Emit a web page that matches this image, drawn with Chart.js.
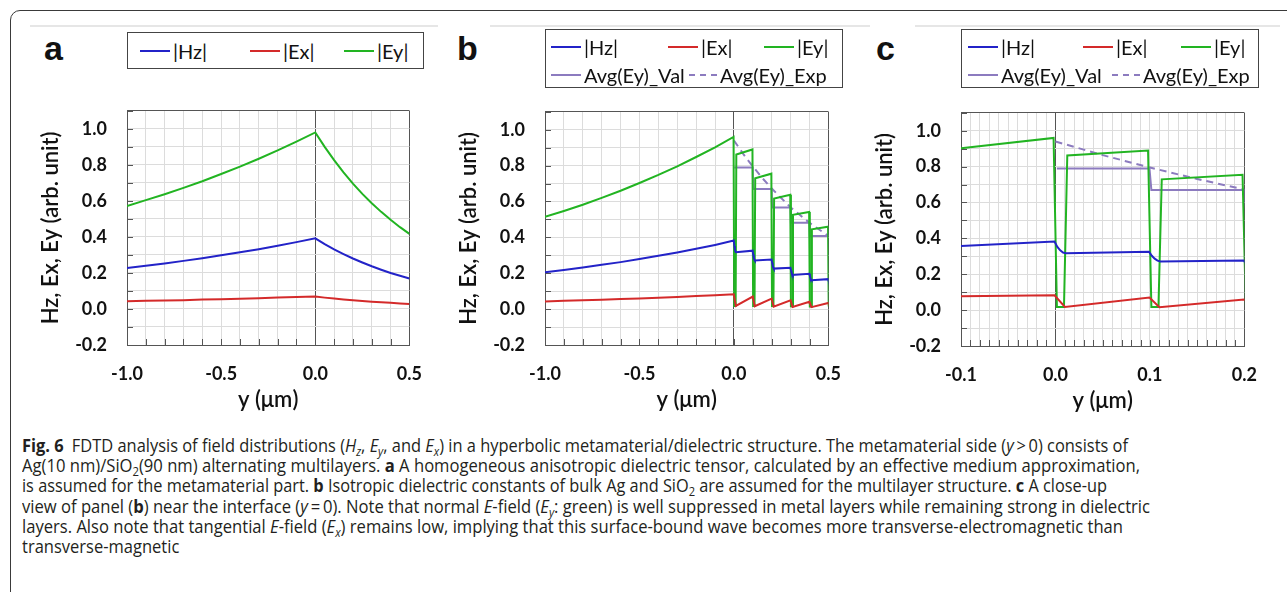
<!DOCTYPE html>
<html>
<head>
<meta charset="utf-8">
<title>Fig. 6 field distributions</title>
<script src="https://cdn.jsdelivr.net/npm/chart.js@4.4.0/dist/chart.umd.min.js"></script>
<style>
    body { margin: 0; width: 1287px; height: 592px; overflow: hidden; background: #fff; position: relative; font-family: Lato, sans-serif; color: #111; }
    .frame { position: absolute; left: 10px; top: 10px; width: 1300px; height: 620px; border: 1px solid #3a3a3a; border-radius: 10px; }
    .rule { position: absolute; top: 25px; height: 2px; background: #e6e6e6; }
    .panel-letter { position: absolute; top: 31px; font: bold 34px "Liberation Sans", Arial, sans-serif; line-height: 34px; color: #111; }
    canvas { position: absolute; }
    .legend { position: absolute; border: 1px solid #444; box-sizing: border-box; }
    .legend-item { position: absolute; display: flex; align-items: center; font-size: 20px; white-space: nowrap; height: 26px; transform: translateY(-50%); }
    .legend-item .swatch { width: 30px; height: 2px; margin-right: 3px; }
    .caption { position: absolute; left: 22px; top: 435px; font-family: "Open Sans", sans-serif; font-size: 17.5px; line-height: 20.2px; color: #231f20; }
    .caption div { white-space: nowrap; transform-origin: 0 50%; width: max-content; }
    .caption sub { font-size: 0.68em; vertical-align: -0.3em; line-height: 0; }
</style>
</head>
<body>
<div class="frame"></div>
<div class="rule" style="left:30px;width:408px"></div>
<div class="rule" style="left:490px;width:380px"></div>
<div class="rule" style="left:915px;width:365px"></div>

<div class="panel-letter" style="left:44px">a</div>
<div class="panel-letter" style="left:457px">b</div>
<div class="panel-letter" style="left:876px">c</div>

<canvas id="chartA" width="420" height="340" style="left:20px;top:80px"></canvas>
<canvas id="chartB" width="421" height="339" style="left:438px;top:81px"></canvas>
<canvas id="chartC" width="421" height="339" style="left:854px;top:82px"></canvas>

<div class="caption" id="caption">
    <div data-w="1106"><b>Fig. 6</b>&ensp;FDTD analysis of field distributions (<i>H</i><sub><i>z</i></sub>, <i>E</i><sub><i>y</i></sub>, and <i>E</i><sub><i>x</i></sub>) in a hyperbolic metamaterial/dielectric structure. The metamaterial side (<i>y</i>&thinsp;&gt;&thinsp;0) consists of</div>
    <div data-w="1118">Ag(10 nm)/SiO<sub>2</sub>(90 nm) alternating multilayers. <b>a</b> A homogeneous anisotropic dielectric tensor, calculated by an effective medium approximation,</div>
    <div data-w="1085">is assumed for the metamaterial part. <b>b</b> Isotropic dielectric constants of bulk Ag and SiO<sub>2</sub> are assumed for the multilayer structure. <b>c</b> A close-up</div>
    <div data-w="1128">view of panel (<b>b</b>) near the interface (<i>y</i>&thinsp;=&thinsp;0). Note that normal <i>E</i>-field (<i>E</i><sub><i>y</i></sub>: green) is well suppressed in metal layers while remaining strong in dielectric</div>
    <div data-w="1101">layers. Also note that tangential <i>E</i>-field (<i>E</i><sub><i>x</i></sub>) remains low, implying that this surface-bound wave becomes more transverse-electromagnetic than</div>
    <div>transverse-magnetic</div>
</div>

<script>
// ---- data: panel a (effective medium), y in um ----
const aX  = [-1.0, -0.9, -0.8, -0.7, -0.6, -0.5, -0.4, -0.3, -0.2, -0.1, 0.0, 0.05, 0.1, 0.15, 0.2, 0.25, 0.3, 0.35, 0.4, 0.45, 0.5];
const aHz = [0.227, 0.240, 0.253, 0.267, 0.282, 0.298, 0.315, 0.332, 0.351, 0.371, 0.392, 0.360, 0.331, 0.305, 0.280, 0.258, 0.237, 0.218, 0.200, 0.184, 0.169];
const aEx = [0.043, 0.045, 0.047, 0.049, 0.052, 0.054, 0.057, 0.060, 0.063, 0.066, 0.069, 0.063, 0.058, 0.053, 0.048, 0.044, 0.040, 0.037, 0.034, 0.031, 0.028];
const aEy = [0.572, 0.604, 0.637, 0.672, 0.709, 0.749, 0.790, 0.834, 0.880, 0.929, 0.980, 0.900, 0.826, 0.758, 0.696, 0.639, 0.587, 0.539, 0.495, 0.454, 0.417];

// ---- data: panels b and c (Ag/SiO2 multilayer, c is a close-up of b) ----
const mlHzX = [-1.0, -0.9, -0.8, -0.7, -0.6, -0.5, -0.4, -0.3, -0.2, -0.1, -0.001,
               0.002, 0.005, 0.008, 0.011, 0.099, 0.102, 0.105, 0.108, 0.111, 0.199,
               0.202, 0.205, 0.208, 0.211, 0.299, 0.302, 0.305, 0.308, 0.311, 0.399,
               0.402, 0.405, 0.408, 0.411, 0.499, 0.502];
const mlHz  = [0.205, 0.218, 0.232, 0.247, 0.262, 0.279, 0.297, 0.316, 0.336, 0.358, 0.382,
               0.352, 0.333, 0.321, 0.317, 0.326, 0.303, 0.287, 0.276, 0.271, 0.277,
               0.259, 0.243, 0.232, 0.226, 0.231, 0.216, 0.203, 0.195, 0.190, 0.197,
               0.185, 0.173, 0.165, 0.161, 0.167, 0.155];

const mlExX = [-1.0, -0.9, -0.8, -0.7, -0.6, -0.5, -0.4, -0.3, -0.2, -0.1, -0.001,
               0.010, 0.0995, 0.110, 0.1995, 0.210, 0.2995, 0.310, 0.3995, 0.410, 0.4995, 0.510];
const mlEx  = [0.043, 0.046, 0.049, 0.052, 0.056, 0.059, 0.063, 0.068, 0.073, 0.078, 0.083,
               0.018, 0.070, 0.016, 0.059, 0.014, 0.049, 0.012, 0.041, 0.011, 0.034, 0.010];

const mlEyX = [-1.0, -0.9, -0.8, -0.7, -0.6, -0.5, -0.4, -0.3, -0.2, -0.1, -0.002,
               0.0015, 0.009, 0.0125, 0.098, 0.1015, 0.109, 0.1125, 0.198,
               0.2015, 0.209, 0.2125, 0.298, 0.3015, 0.309, 0.3125, 0.398,
               0.4015, 0.409, 0.4125, 0.498, 0.5015];
const mlEy  = [0.514, 0.547, 0.582, 0.620, 0.660, 0.703, 0.748, 0.796, 0.848, 0.902, 0.960,
               0.018, 0.018, 0.862, 0.890, 0.018, 0.018, 0.729, 0.755,
               0.017, 0.017, 0.617, 0.638, 0.016, 0.016, 0.526, 0.542,
               0.015, 0.015, 0.445, 0.459, 0.015];

const mlValX = [0.0015, 0.0995, 0.1015, 0.1995, 0.2015, 0.2995, 0.3015, 0.3995, 0.4015, 0.5];
const mlVal  = [0.790, 0.790, 0.669, 0.669, 0.567, 0.567, 0.481, 0.481, 0.408, 0.408];

const mlExpX = [0.0, 0.05, 0.1, 0.15, 0.2, 0.3, 0.4, 0.5];
const mlExp  = [0.940, 0.864, 0.795, 0.731, 0.672, 0.567, 0.481, 0.408];

// ---- tick labels ----
const yTickLabels   = [-0.2, 0.0, 0.2, 0.4, 0.6, 0.8, 1.0];
const xTickLabelsAB = [-1.0, -0.5, 0.0, 0.5];
const xTickLabelsC  = [-0.1, 0.0, 0.1, 0.2];

// ---- styles ----
const FRAME = '#555';
const GRID = '#dcdcdc';
const BLUE = '#2323c8';
const RED = '#d42a2a';
const GREEN = '#22b422';
const PURPLE = '#8c7bbf';
const TICK_FONT = { family: 'Lato, sans-serif', size: 18, weight: 'bold' };
const TITLE_FONT = { family: 'Lato, sans-serif', size: 22, weight: '600' };

function pts(xs, ys) {
    return xs.map((x, i) => ({ x: x, y: ys[i] }));
}

function tickText(v, list) {
    const idx = list.findIndex(t => Math.abs(t - v) < 1e-6);
    return idx >= 0 ? list[idx].toFixed(1) : '';
}

// small tick marks drawn inward from the left and bottom frame
const innerTicks = {
    id: 'innerTicks',
    beforeDatasetsDraw(chart) {
        const { ctx, chartArea, scales } = chart;
        ctx.save();
        ctx.strokeStyle = FRAME;
        ctx.lineWidth = 1;
        ctx.beginPath();
        scales.x.ticks.forEach(t => {
            const px = Math.round(scales.x.getPixelForValue(t.value)) + 0.5;
            ctx.moveTo(px, chartArea.bottom);
            ctx.lineTo(px, chartArea.bottom - 6);
        });
        scales.y.ticks.forEach(t => {
            const py = Math.round(scales.y.getPixelForValue(t.value)) + 0.5;
            ctx.moveTo(chartArea.left, py);
            ctx.lineTo(chartArea.left + 6, py);
        });
        ctx.stroke();
        ctx.restore();
    }
};

function line(label, data, color, dash) {
    return {
        label: label,
        data: data,
        borderColor: color,
        backgroundColor: color,
        borderWidth: 2,
        borderDash: dash || [],
        pointRadius: 0,
        tension: 0,
        fill: false
    };
}

function makeChart(id, xMin, xMax, xStep, xLabels, datasets) {
    return new Chart(document.getElementById(id), {
        type: 'line',
        data: { datasets: datasets },
        options: {
            responsive: false,
            animation: false,
            layout: { padding: { top: 12, right: 16, left: 0, bottom: 0 } },
            plugins: { legend: { display: false }, tooltip: { enabled: false } },
            scales: {
                x: {
                    type: 'linear',
                    min: xMin,
                    max: xMax,
                    afterFit: s => { s.height = 75; },
                    ticks: {
                        stepSize: xStep, precision: 3, autoSkip: false, maxRotation: 0,
                        padding: 18, font: TICK_FONT, color: '#111',
                        callback: v => tickText(v, xLabels)
                    },
                    grid: {
                        drawTicks: false,
                        lineWidth: 1,
                        color: c => {
                            const v = c.tick ? c.tick.value : NaN;
                            return (Math.abs(v) < 1e-9 || Math.abs(v - xMax) < 1e-9) ? FRAME : GRID;
                        }
                    },
                    border: { color: FRAME, width: 1 },
                    title: { display: true, text: 'y (μm)', font: TITLE_FONT, color: '#111', padding: { top: 0, bottom: 7 } }
                },
                y: {
                    min: -0.2,
                    max: 1.1,
                    afterFit: s => { s.width = 107; },
                    ticks: {
                        stepSize: 0.1, precision: 3, autoSkip: false,
                        padding: 20, font: TICK_FONT, color: '#111',
                        callback: v => tickText(v, yTickLabels)
                    },
                    grid: {
                        drawTicks: false,
                        lineWidth: 1,
                        color: c => {
                            const v = c.tick ? c.tick.value : NaN;
                            return Math.abs(v - 1.1) < 1e-9 ? FRAME : GRID;
                        }
                    },
                    border: { color: FRAME, width: 1 },
                    title: { display: true, text: 'Hz, Ex, Ey (arb. unit)', font: TITLE_FONT, color: '#111', padding: { top: 18, bottom: 0 } }
                }
            }
        },
        plugins: [innerTicks]
    });
}

function buildLegend(datasets, layout) {
    const box = document.createElement('div');
    box.className = 'legend';
    box.style.left = layout.left + 'px';
    box.style.top = layout.top + 'px';
    box.style.width = layout.width + 'px';
    box.style.height = layout.height + 'px';
    layout.rows.forEach(row => {
        row.items.forEach(it => {
            const ds = datasets[it.idx];
            const item = document.createElement('div');
            item.className = 'legend-item';
            item.style.left = it.off + 'px';
            item.style.top = row.y + 'px';
            const sw = document.createElement('span');
            sw.className = 'swatch';
            if (ds.borderDash.length) {
                sw.style.width = '28px';
                sw.style.background = 'repeating-linear-gradient(90deg,' + ds.borderColor + ' 0 6px, transparent 6px 11px)';
            } else {
                sw.style.background = ds.borderColor;
            }
            const txt = document.createElement('span');
            txt.textContent = ds.label;
            item.appendChild(sw);
            item.appendChild(txt);
            box.appendChild(item);
        });
    });
    document.body.appendChild(box);
}

// panel a
const dsA = [
    line('|Hz|', pts(aX, aHz), BLUE),
    line('|Ex|', pts(aX, aEx), RED),
    line('|Ey|', pts(aX, aEy), GREEN)
];
makeChart('chartA', -1.0, 0.5, 0.1, xTickLabelsAB, dsA);
buildLegend(dsA, {
    left: 127, top: 32, width: 297, height: 37,
    rows: [{ y: 17.5, items: [{ idx: 0, off: 12 }, { idx: 1, off: 122 }, { idx: 2, off: 216 }] }]
});

// panels b and c share the multilayer data
function multilayerSets() {
    return [
        line('|Hz|', pts(mlHzX, mlHz), BLUE),
        line('|Ex|', pts(mlExX, mlEx), RED),
        line('|Ey|', pts(mlEyX, mlEy), GREEN),
        line('Avg(Ey)_Val', pts(mlValX, mlVal), PURPLE),
        line('Avg(Ey)_Exp', pts(mlExpX, mlExp), PURPLE, [7, 5])
    ];
}

const dsB = multilayerSets();
makeChart('chartB', -1.0, 0.5, 0.1, xTickLabelsAB, dsB);
buildLegend(dsB, {
    left: 545, top: 29, width: 298, height: 59,
    rows: [
        { y: 17, items: [{ idx: 0, off: 5 }, { idx: 1, off: 122 }, { idx: 2, off: 218 }] },
        { y: 45, items: [{ idx: 3, off: 5 }, { idx: 4, off: 143 }] }
    ]
});

const dsC = multilayerSets();
makeChart('chartC', -0.1, 0.2, 0.01, xTickLabelsC, dsC);
buildLegend(dsC, {
    left: 961, top: 29, width: 298, height: 59,
    rows: [
        { y: 17, items: [{ idx: 0, off: 6 }, { idx: 1, off: 121 }, { idx: 2, off: 219 }] },
        { y: 45, items: [{ idx: 3, off: 6 }, { idx: 4, off: 150 }] }
    ]
});

// squeeze caption lines to the widths of the printed caption;
// the short last line takes the mean squeeze of the others
function fitCaption() {
    const lines = Array.from(document.querySelectorAll('#caption div'));
    const scales = [];
    lines.forEach(el => { el.style.transform = 'none'; });
    lines.forEach(el => {
        if (!el.dataset.w) return;
        const w = el.getBoundingClientRect().width;
        if (w > 0) {
            const s = parseFloat(el.dataset.w) / w;
            scales.push(s);
            el.style.transform = 'scaleX(' + s + ')';
        }
    });
    const mean = scales.reduce((a, b) => a + b, 0) / (scales.length || 1);
    lines.forEach(el => {
        if (!el.dataset.w) el.style.transform = 'scaleX(' + mean + ')';
    });
}
fitCaption();
if (document.fonts && document.fonts.ready) document.fonts.ready.then(fitCaption);
</script>
</body>
</html>
